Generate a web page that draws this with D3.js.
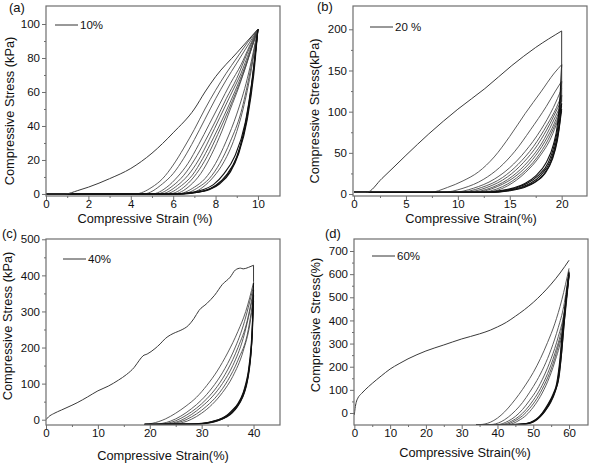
<!DOCTYPE html>
<html><head><meta charset="utf-8">
<script src="https://cdn.jsdelivr.net/npm/d3@7"></script>
<style>
body{margin:0;background:#fff}
text{font-family:"Liberation Sans",Arial,sans-serif;fill:#111}
</style>
</head><body>
<svg id="chart" width="590" height="465"></svg>
<script>
// ---------- Panel (a) 10% ----------
const aXTicks = [0,2,4,6,8,10];
const aYTicks = [0,20,40,60,80,100];
const aXMinor = [1,3,5,7,9];
const aYMinor = [10,30,50,70,90];
const aFirst = [[0,0],[0.9,0],[1.5,2],[2,4],[3,9],[4,15],[5,24],[6,36],[7,50],[7.5,60],[8,69],[9,83],[10,97]];
const aDrop = [];
const aReload = [
 [[0,0],[4.2,0],[5,4],[5.5,9],[6,17],[6.5,27],[7,38],[7.5,50],[8,61],[8.5,71],[9,80],[9.5,89],[10,97]],
 [[0,0],[4.6,0],[5.5,6],[6,12],[6.5,21],[7,32],[7.5,44],[8,56],[8.5,67],[9,77],[9.5,87],[10,97]],
 [[0,0],[5,0],[5.7,4],[6.2,10],[6.7,18],[7.2,29],[7.7,41],[8.2,53],[8.7,65],[9.2,76],[9.6,87],[10,97]],
 [[0,0],[5.2,0],[6,5],[6.5,11],[7,20],[7.5,31],[8,43],[8.5,56],[9,68],[9.5,83],[10,97]],
 [[0,0],[5.4,0],[6.2,5],[6.7,11],[7.2,20],[7.7,32],[8.2,45],[8.7,58],[9.2,71],[9.6,84],[10,97]],
 [[0,0],[5.6,0],[6.4,5],[6.9,11],[7.4,21],[7.9,33],[8.4,46],[8.9,60],[9.3,72],[9.7,86],[10,97]],
 [[0,0],[5.8,0],[6.6,5],[7.1,12],[7.6,22],[8.1,35],[8.6,49],[9,61],[9.4,74],[9.7,86],[10,97]],
 [[0,0],[6,0],[6.8,5],[7.3,12],[7.8,23],[8.3,37],[8.7,50],[9.1,63],[9.5,78],[10,97]],
 [[0,0],[6.2,0],[7,4],[7.5,9],[8,18],[8.5,31],[9,47],[9.5,68],[10,97]],
 [[0,0],[6.4,0],[7.2,4],[7.7,9],[8.2,18],[8.7,31],[9.2,48],[9.6,70],[10,97]],
 [[0,0],[6.6,0],[7.4,4],[7.9,10],[8.4,19],[8.9,33],[9.3,50],[9.7,74],[10,97]]
];
const aUnload = [
 [[0,0],[6,0],[6.5,0.2],[7,0.8],[7.5,2],[8,5],[8.5,11],[9,22],[9.5,46],[9.75,68],[10,97]],
 [[0,0],[6.2,0],[6.7,0.3],[7.2,1],[7.7,2.5],[8.2,6],[8.7,13],[9.1,24],[9.5,44],[9.8,70],[10,97]],
 [[0,0],[5.8,0],[6.4,0.3],[6.9,1],[7.4,2.5],[7.9,5.5],[8.4,12],[8.9,22],[9.4,42],[9.7,65],[10,97]],
 [[0,0],[6.1,0],[6.6,0.3],[7.1,1],[7.6,2.3],[8.1,5.5],[8.6,12],[9.05,23],[9.45,44],[9.75,69],[10,97]]
];

// ---------- Panel (b) 20% ----------
const bXTicks = [0,5,10,15,20];
const bYTicks = [0,50,100,150,200];
const bXMinor = [2.5,7.5,12.5,17.5];
const bYMinor = [25,75,125,175];
const bFirst = [[0,2],[1.2,2],[2.7,19],[5,47],[7.2,73],[10,103],[12.6,128],[15.2,156],[17.5,178],[20,198]];
const bDrop = [[20,198],[20,112]];
const bReload = [
 [[0,2],[7.3,2],[9,8],[10.5,16],[12,27],[13.5,45],[15,70],[16.5,98],[18,124],[19.3,147],[20,157]],
 [[0,2],[8.5,2],[10.5,7],[12.5,18],[14,32],[15.5,52],[17,78],[18.5,106],[19.4,125],[20,137]],
 [[0,2],[9.5,2],[11.5,7],[13.5,18],[15,32],[16.5,52],[18,78],[19.2,105],[20,128]],
 [[0,2],[10,2],[12.3,8],[14.3,20],[15.8,36],[17.3,58],[18.6,84],[19.5,105],[20,120]],
 [[0,2],[10.5,2],[12.8,8],[14.8,21],[16.3,38],[17.7,60],[18.9,86],[19.6,104],[20,114]],
 [[0,2],[11,2],[13.3,8],[15.3,22],[16.8,40],[18.1,62],[19.1,86],[19.7,102],[20,110]],
 [[0,2],[11.5,2],[13.8,9],[15.7,23],[17.2,42],[18.4,64],[19.3,86],[19.8,101],[20,106]],
 [[0,2],[12,2],[14.3,9],[16.1,24],[17.6,44],[18.7,66],[19.5,88],[20,103]],
 [[0,2],[12.5,2],[14.8,10],[16.5,26],[17.9,46],[19,69],[19.6,88],[20,100]]
];
const bUnload = [
 [[0,2],[12,2],[14,4],[15.5,8],[16.5,13],[17.5,22],[18.5,38],[19.2,60],[19.6,85],[19.85,120],[20,157]],
 [[0,2],[12.5,2],[14.3,4],[15.7,8],[16.7,13],[17.7,22],[18.7,38],[19.3,60],[19.7,88],[20,137]],
 [[0,2],[12.8,2],[14.6,4],[16,8],[17,13],[18,23],[18.9,40],[19.4,60],[19.8,90],[20,120]],
 [[0,2],[13,2],[14.8,4],[16.2,8],[17.2,13],[18.2,23],[19,40],[19.5,62],[19.85,90],[20,110]],
 [[0,2],[13.2,2],[15,4],[16.4,8],[17.4,14],[18.4,25],[19.1,42],[19.6,66],[20,103]]
];

// ---------- Panel (c) 40% ----------
const cXTicks = [0,10,20,30,40];
const cYTicks = [0,100,200,300,400,500];
const cXMinor = [5,15,25,35];
const cYMinor = [50,150,250,350,450];
const cFirst = [[0,0],[0.5,8],[1.5,17],[3,27],[5,40],[6,47],[8,63],[10,80],[12,93],[14,110],[15.5,125],[17,145],[18,165],[18.7,177],[19.5,182],[21,197],[22,210],[23,225],[24,235],[25,242],[26,248],[27.5,262],[28.5,280],[29.5,303],[31,322],[32.5,345],[34,375],[35.5,395],[36.5,415],[37.5,420],[38,418],[39,422],[40,428]];
const cDrop = [[40,428],[40,382]];
const cReload = [
 [[19,-13],[20.5,-10],[23,2],[25,18],[27,38],[29,62],[31,95],[33,135],[35,185],[37,245],[38.5,300],[40,380]],
 [[21,-13],[24,-4],[26,10],[28,30],[30,55],[32,88],[34,130],[36,185],[38,260],[40,370]],
 [[22,-13],[25,-3],[27,12],[29,32],[31,58],[33,92],[35,138],[37,200],[38.8,275],[40,360]],
 [[23,-13],[26,-2],[28,14],[30,36],[32,63],[34,100],[36,150],[38,225],[40,350]],
 [[24,-13],[27,0],[29,16],[31,38],[33,67],[35,108],[37,165],[39,250],[40,342]],
 [[25,-13],[28,1],[30,18],[32,42],[34,75],[36,120],[38,190],[39.3,265],[40,335]]
];
const cUnload = [
 [[19,-13],[28,-12],[30,-10],[32,-5],[34,5],[35,14],[36,28],[37,45],[38,75],[38.5,100],[39,135],[39.5,200],[39.8,270],[40,380]],
 [[19,-13],[28.5,-12],[30.5,-10],[32.5,-4],[34.3,6],[35.3,15],[36.3,30],[37.3,50],[38.2,80],[38.8,112],[39.3,160],[39.7,230],[40,360]],
 [[19,-13],[29,-12],[31,-9],[33,-3],[34.6,7],[35.6,17],[36.6,32],[37.6,55],[38.4,85],[39,125],[39.5,185],[39.8,250],[40,345]],
 [[19,-13],[29.5,-12],[31.5,-9],[33.3,-2],[34.9,8],[35.9,19],[36.9,36],[37.9,62],[38.6,92],[39.2,140],[39.6,200],[40,330]]
];

// ---------- Panel (d) 60% ----------
const dXTicks = [0,10,20,30,40,50,60];
const dYTicks = [0,100,200,300,400,500,600,700];
const dXMinor = [5,15,25,35,45,55];
const dYMinor = [50,150,250,350,450,550,650];
const dFirst = [[0,-8],[0.2,20],[0.5,45],[1,65],[2,84],[3,100],[5,128],[7.5,160],[10,190],[12.5,213],[15,234],[17.5,252],[20,268],[25,294],[30,320],[35,342],[38,358],[40,372],[42.5,392],[45,418],[47.5,446],[50,478],[52.5,515],[55,557],[57.5,605],[60,660]];
const dDrop = [];
const dReload = [
 [[34,-50],[35,-50],[38,-40],[40,-22],[42,5],[44,40],[46,80],[48,125],[50,175],[52,235],[54,305],[56,385],[58,490],[60,625]],
 [[34,-50],[38,-50],[41,-38],[43,-18],[45,10],[47,45],[49,90],[51,140],[53,200],[55,275],[57,370],[58.5,460],[60,615]],
 [[34,-50],[40,-50],[43,-35],[45,-15],[47,15],[49,55],[51,100],[53,160],[55,235],[57,330],[58.7,440],[60,605]],
 [[34,-50],[41,-50],[44,-35],[46,-15],[48,15],[50,55],[52,105],[54,170],[56,255],[58,370],[60,600]],
 [[34,-50],[42,-50],[45,-33],[47,-12],[49,20],[51,62],[53,118],[55,190],[57,290],[58.8,410],[60,595]],
 [[34,-50],[43,-50],[46,-32],[48,-10],[50,25],[52,72],[54,135],[56,220],[58,340],[60,590]]
];
const dUnload = [
 [[34,-50],[44,-50],[47,-48],[49,-42],[51,-25],[52.5,0],[54,35],[55.5,80],[56.5,125],[57.5,240],[58,330],[58.7,430],[59.3,520],[60,610]],
 [[34,-50],[44.5,-50],[47.5,-47],[49.5,-40],[51.3,-22],[52.8,3],[54.3,38],[55.8,85],[56.8,135],[57.7,250],[58.2,340],[58.8,440],[59.4,525],[60,605]],
 [[34,-50],[45,-50],[48,-47],[50,-38],[51.6,-20],[53.1,6],[54.6,42],[56,90],[57,145],[57.9,260],[58.4,350],[58.9,445],[59.5,530],[60,600]],
 [[34,-50],[45.5,-50],[48.5,-46],[50.4,-36],[52,-16],[53.4,10],[54.9,46],[56.2,95],[57.2,155],[58,270],[58.5,360],[59,450],[59.5,525],[60,595]]
];

// ---------- layout ----------
const panels = [
 {tag:"(a)", tagPos:[9,12], box:{l:46,r:280,t:6,b:196}, xDom:[0,11.04], yDom:[-1.2,110.6],
  xTicks:aXTicks, yTicks:aYTicks, xMinor:aXMinor, yMinor:aYMinor,
  first:aFirst, drop:aDrop, reload:aReload, unload:aUnload,
  legend:"10%", legPos:[55,25], xLabel:"Compressive Strain (%)", xLabPos:[145,222.5],
  yLabel:"Compressive Stress (kPa)", yLabPos:[10,111]},
 {tag:"(b)", tagPos:[317,11], box:{l:353,r:587,t:6,b:196}, xDom:[-0.1,22.44], yDom:[-2.4,228.3],
  xTicks:bXTicks, yTicks:bYTicks, xMinor:bXMinor, yMinor:bYMinor,
  first:bFirst, drop:bDrop, reload:bReload, unload:bUnload,
  legend:"20 %", legPos:[370,27], xLabel:"Compressive Strain(%)", xLabPos:[471,223],
  yLabel:"Compressive Stress(kPa)", yLabPos:[315,111]},
 {tag:"(c)", tagPos:[2,238], box:{l:46,r:280,t:239,b:425}, xDom:[0,45.1], yDom:[-14.7,500.8],
  xTicks:cXTicks, yTicks:cYTicks, xMinor:cXMinor, yMinor:cYMinor,
  first:cFirst, drop:cDrop, reload:cReload, unload:cUnload,
  legend:"40%", legPos:[63,259], xLabel:"Compressive Strain(%)", xLabPos:[163,460],
  yLabel:"Compressive Stress (kPa)", yLabPos:[8,326]},
 {tag:"(d)", tagPos:[325,238], box:{l:354,r:588,t:239,b:425}, xDom:[-0.1,65.3], yDom:[-51.9,751.9],
  xTicks:dXTicks, yTicks:dYTicks, xMinor:dXMinor, yMinor:dYMinor,
  first:dFirst, drop:dDrop, reload:dReload, unload:dUnload,
  legend:"60%", legPos:[372,256], xLabel:"Compressive Strain(%)", xLabPos:[465,457],
  yLabel:"Compressive Stress(%)", yLabPos:[316,325]}
];

const svg = d3.select("#chart");
const frameColor = "#6e6e6e";

panels.forEach(p => {
  const b = p.box;
  const x = d3.scaleLinear().domain(p.xDom).range([b.l, b.r]);
  const y = d3.scaleLinear().domain(p.yDom).range([b.b, b.t]);
  const g = svg.append("g");

  const clipId = "clip" + p.tag.replace(/\W/g,"");
  svg.append("clipPath").attr("id", clipId).append("rect")
    .attr("x", b.l).attr("y", b.t - 2).attr("width", b.r - b.l).attr("height", b.b - b.t + 2);

  const line = d3.line().x(d => x(d[0])).y(d => y(d[1])).curve(d3.curveMonotoneX);
  const lineLin = d3.line().x(d => x(d[0])).y(d => y(d[1]));
  const cg = g.append("g").attr("clip-path", `url(#${clipId})`).attr("fill","none");

  p.reload.forEach(c => cg.append("path").attr("d", line(c)).attr("stroke","#4a4a4a").attr("stroke-width",0.9));
  p.unload.forEach(c => cg.append("path").attr("d", line(c)).attr("stroke","#111").attr("stroke-width",1.1));
  cg.append("path").attr("d", line(p.first)).attr("stroke","#3a3a3a").attr("stroke-width",1);
  if (p.drop.length) cg.append("path").attr("d", lineLin(p.drop)).attr("stroke","#3a3a3a").attr("stroke-width",1);

  // frame
  g.append("rect").attr("x", b.l).attr("y", b.t).attr("width", b.r - b.l).attr("height", b.b - b.t)
    .attr("fill","none").attr("stroke", frameColor).attr("stroke-width",1.2);

  // axes
  const xa = g.append("g").attr("transform", `translate(0,${b.b})`)
    .call(d3.axisBottom(x).tickValues(p.xTicks).tickSize(4).tickSizeOuter(0).tickPadding(0));
  const xm = g.append("g").attr("transform", `translate(0,${b.b})`)
    .call(d3.axisBottom(x).tickValues(p.xMinor).tickSize(2).tickSizeOuter(0).tickFormat(""));
  const ya = g.append("g").attr("transform", `translate(${b.l},0)`)
    .call(d3.axisLeft(y).tickValues(p.yTicks).tickSize(4).tickSizeOuter(0).tickPadding(2));
  const ym = g.append("g").attr("transform", `translate(${b.l},0)`)
    .call(d3.axisLeft(y).tickValues(p.yMinor).tickSize(2).tickSizeOuter(0).tickFormat(""));
  [xa, xm, ya, ym].forEach(a => {
    a.select(".domain").remove();
    a.selectAll(".tick line").attr("stroke", frameColor).attr("stroke-width",1);
    a.selectAll(".tick text").attr("font-size", 11.5).attr("fill","#111")
      .attr("font-family", '"Liberation Sans",Arial,sans-serif');
  });

  // legend
  g.append("line").attr("x1", p.legPos[0]).attr("x2", p.legPos[0] + 23)
    .attr("y1", p.legPos[1]).attr("y2", p.legPos[1]).attr("stroke","#333").attr("stroke-width",1);
  g.append("text").attr("x", p.legPos[0] + 25).attr("y", p.legPos[1] + 4)
    .attr("font-size", 11.5).text(p.legend);

  // labels
  g.append("text").attr("x", p.xLabPos[0]).attr("y", p.xLabPos[1]).attr("text-anchor","middle")
    .attr("font-size", 12.8).text(p.xLabel);
  g.append("text").attr("transform", `translate(${p.yLabPos[0]},${p.yLabPos[1]}) rotate(-90)`)
    .attr("text-anchor","middle").attr("dy","0.35em").attr("font-size", 12.8).text(p.yLabel);
  g.append("text").attr("x", p.tagPos[0]).attr("y", p.tagPos[1]).attr("font-size", 13).text(p.tag);
});
</script>
</body></html>
